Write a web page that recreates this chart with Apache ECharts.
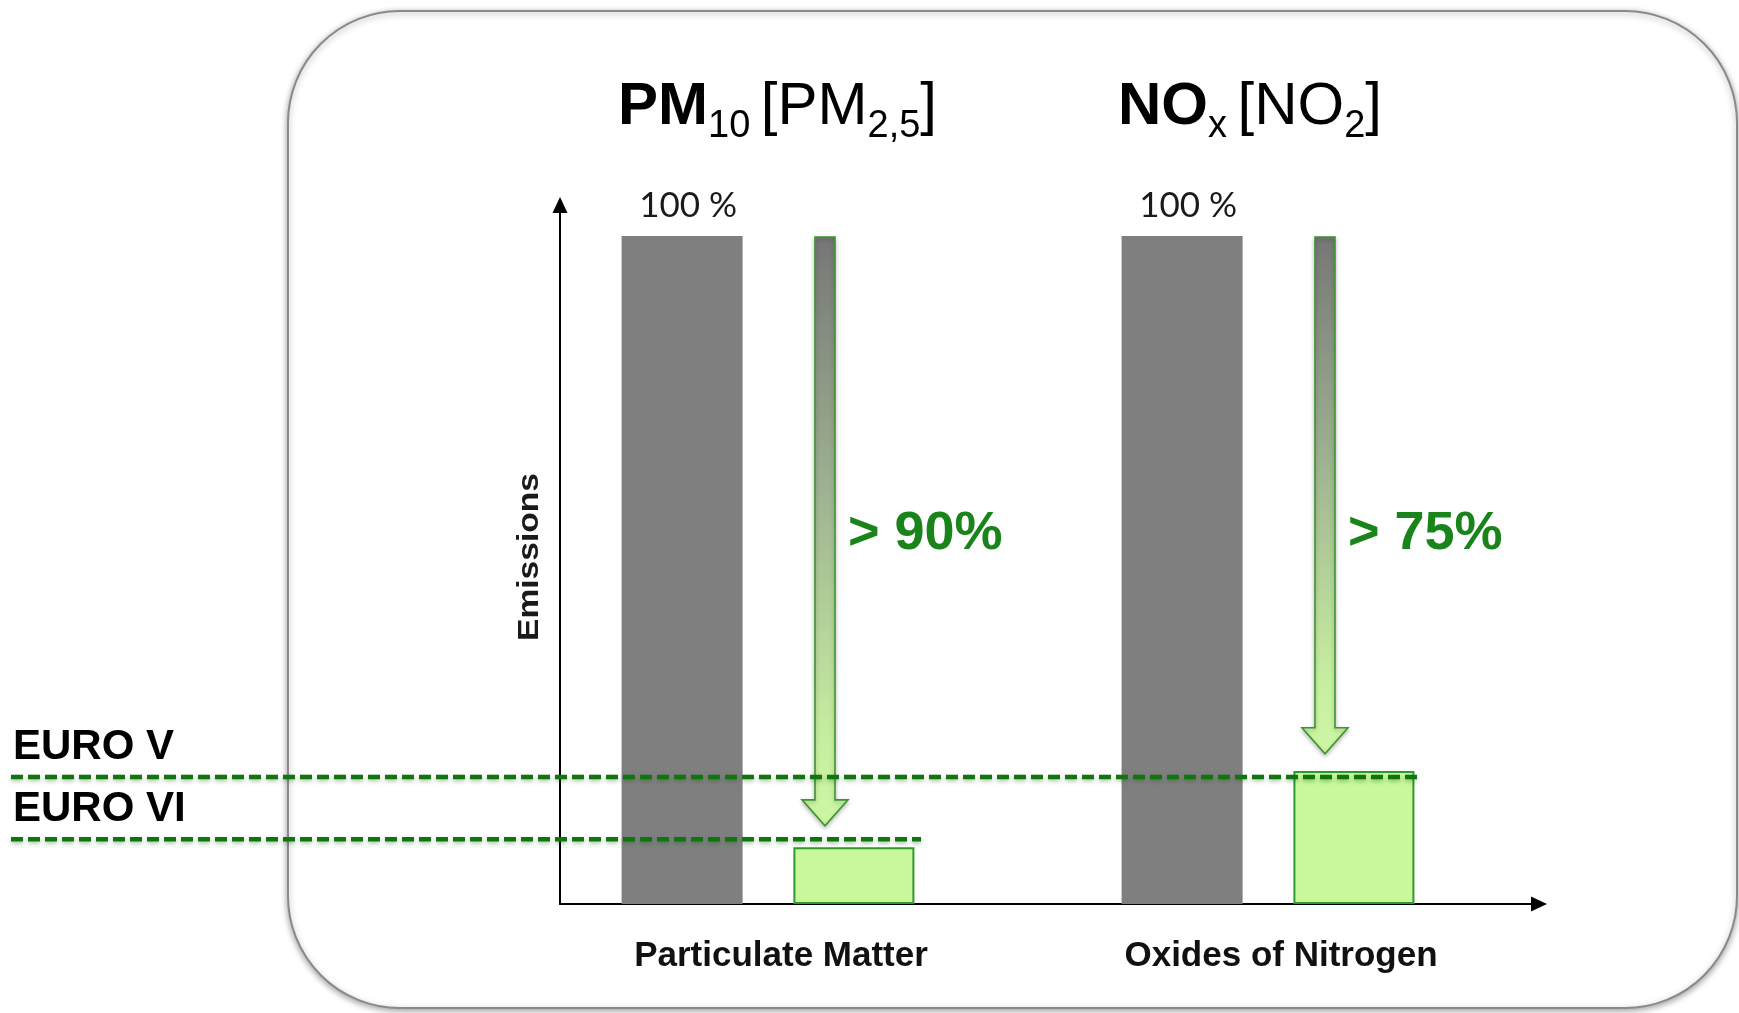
<!DOCTYPE html>
<html>
<head>
<meta charset="utf-8">
<script src="https://cdn.jsdelivr.net/npm/echarts@6/dist/echarts.min.js"></script>
<style>
html,body{margin:0;padding:0;background:#fff;}
#c{width:1739px;height:1013px;}
</style>
</head>
<body>
<div id="c"></div>
<script>
// ---- data ----
const categories = ['Particulate Matter', 'Oxides of Nitrogen'];
const pollutantTitles = ['{b|PM}{rs|10 }{r|[PM}{rs|2,5}{r|]}', '{b|NO}{rs|x }{r|[NO}{rs|2}{r|]}'];
const baselineEmissions = [100, 100];
const euroVIEmissions = [8.5, 19.9];
const arrowEndValues = [11.7, 22.5];
const reductionLabels = ['> 90%', '> 75%'];
const limitNames = ['EURO V', 'EURO VI'];
const limitValues = [19.0, 9.7];
const limitCategory = [1, 0];
const yAxisName = 'Emissions';

// ---- styles ----
const SANS = '"Liberation Sans", Arial, sans-serif';
const BAR_W = 121;

const chart = echarts.init(document.getElementById('c'), null, {renderer: 'canvas'});

const option = {
  backgroundColor: '#ffffff',
  animation: false,
  graphic: [
    {
      type: 'rect', z: 0,
      shape: {x: 288, y: 11, width: 1449, height: 997, r: 112},
      style: {fill: '#ffffff', stroke: '#8a8a8a', lineWidth: 2,
              shadowBlur: 6, shadowColor: 'rgba(0,0,0,0.35)', shadowOffsetY: 2}
    },
    {
      type: 'text', z: 10,
      x: 530, y: 557, rotation: Math.PI / 2, scaleX: 1.12,
      style: {text: yAxisName, fontFamily: SANS, fontWeight: 'bold', fontSize: 30,
              fill: '#1a1a1a', align: 'center', verticalAlign: 'middle'}
    }
  ],
  grid: [
    {left: 518, right: 221, top: 236, bottom: 109},
    {left: 560, right: 200, top: 205, bottom: 109}
  ],
  xAxis: [
    {
      type: 'category', gridIndex: 0, data: categories,
      axisLine: {show: false}, axisTick: {show: false}, splitLine: {show: false},
      axisLabel: {margin: 35, padding: [0, 0, 0, 26], fontFamily: SANS, fontWeight: 'bold',
                  fontSize: 35, color: '#111'}
    },
    {
      type: 'value', gridIndex: 1, min: 0, max: 1,
      axisLine: {show: true, symbol: ['none', 'triangle'], symbolSize: [15, 16],
                 lineStyle: {color: '#000', width: 2}},
      axisTick: {show: false}, axisLabel: {show: false}, splitLine: {show: false}
    }
  ],
  yAxis: [
    {type: 'value', gridIndex: 0, min: 0, max: 100, show: false},
    {
      type: 'value', gridIndex: 1, min: 0, max: 1,
      axisLine: {show: true, symbol: ['none', 'triangle'], symbolSize: [15, 16],
                 lineStyle: {color: '#000', width: 2}},
      axisTick: {show: false}, axisLabel: {show: false}, splitLine: {show: false}
    }
  ],
  series: [
    {
      type: 'bar', name: 'Before', xAxisIndex: 0, yAxisIndex: 0,
      data: baselineEmissions, barWidth: BAR_W, barGap: '42%',
      itemStyle: {color: '#7f7f7f'},
      label: {show: true, position: 'top', distance: 13, offset: [6, 0],
              formatter: '{c} %', fontFamily: 'Lato', fontSize: 35, color: '#1a1a1a'}
    },
    {
      type: 'bar', name: 'EURO VI', xAxisIndex: 0, yAxisIndex: 0,
      data: euroVIEmissions, barWidth: BAR_W, barGap: '42%',
      itemStyle: {color: '#c8f89a', borderColor: '#2f982f', borderWidth: 2}
    },
    {
      type: 'custom', name: 'reduction', xAxisIndex: 0, yAxisIndex: 0, z: 5,
      data: categories.map((c, i) => [i, baselineEmissions[i], arrowEndValues[i]]),
      encode: {x: 0, y: [1, 2]},
      renderItem: function (params, api) {
        const i = params.dataIndex;
        const top = api.coord([api.value(0), api.value(1)]);
        const tip = api.coord([api.value(0), api.value(2)]);
        const cx = top[0] + 57;
        const y0 = top[1] + 1, y1 = tip[1];
        const sw = 10, hw = 23, hl = 26;
        const pts = [[cx - sw, y0], [cx + sw, y0], [cx + sw, y1 - hl], [cx + hw, y1 - hl],
                     [cx, y1], [cx - hw, y1 - hl], [cx - sw, y1 - hl]];
        const labelY = api.coord([api.value(0), 55.3])[1];
        return {
          type: 'group',
          children: [
            {
              type: 'polygon', shape: {points: pts},
              style: {
                fill: new echarts.graphic.LinearGradient(0, 0, 0, 1, [
                  {offset: 0, color: '#767676'},
                  {offset: 0.45, color: '#a0b592'},
                  {offset: 0.85, color: '#c6eea0'},
                  {offset: 1, color: '#cdf7a4'}
                ]),
                stroke: '#3f9430', lineWidth: 1.6,
                shadowBlur: 4, shadowColor: 'rgba(0,0,0,0.25)', shadowOffsetY: 2
              }
            },
            {
              type: 'text',
              style: {text: reductionLabels[i], x: cx + 23, y: labelY, align: 'left', verticalAlign: 'middle',
                      fontFamily: SANS, fontWeight: 'bold', fontSize: 54, fill: '#198419'}
            }
          ]
        };
      }
    },
    {
      type: 'custom', name: 'limits', xAxisIndex: 0, yAxisIndex: 0, z: 6,
      data: limitValues.map((v, i) => [limitCategory[i], v]),
      encode: {x: 0, y: 1},
      renderItem: function (params, api) {
        const i = params.dataIndex;
        const p = api.coord([api.value(0), api.value(1)]);
        const x2 = p[0] + 153;
        return {
          type: 'group',
          children: [
            {
              type: 'line', shape: {x1: 11, y1: p[1], x2: x2, y2: p[1]},
              style: {stroke: '#107510', lineWidth: 4.5, lineDash: [12, 5],
                      shadowBlur: 4, shadowColor: 'rgba(0,90,0,0.35)', shadowOffsetY: 2}
            },
            {
              type: 'text',
              style: {text: limitNames[i], x: 13, y: p[1] - 30, align: 'left', verticalAlign: 'middle',
                      fontFamily: SANS, fontWeight: 'bold', fontSize: 42, fill: '#000'}
            }
          ]
        };
      }
    },
    {
      type: 'custom', name: 'titles', xAxisIndex: 0, yAxisIndex: 0, z: 6,
      data: categories.map((c, i) => [i, baselineEmissions[i]]),
      encode: {x: 0, y: 1},
      renderItem: function (params, api) {
        const i = params.dataIndex;
        const p = api.coord([api.value(0), api.value(1)]);
        return {
          type: 'text',
          style: {
            text: pollutantTitles[i], x: p[0] - 150, y: 77, align: 'left', verticalAlign: 'top',
            fill: '#000',
            rich: {
              b: {fontFamily: SANS, fontWeight: 'bold', fontSize: 60, padding: [0, 0, 9, 0], fill: '#000'},
              r: {fontFamily: SANS, fontWeight: 'normal', fontSize: 60, padding: [0, 0, 9, 0], fill: '#000'},
              rs: {fontFamily: SANS, fontWeight: 'normal', fontSize: 38, verticalAlign: 'bottom', fill: '#000'}
            }
          }
        };
      }
    }
  ]
};
chart.setOption(option);
</script>
</body>
</html>
